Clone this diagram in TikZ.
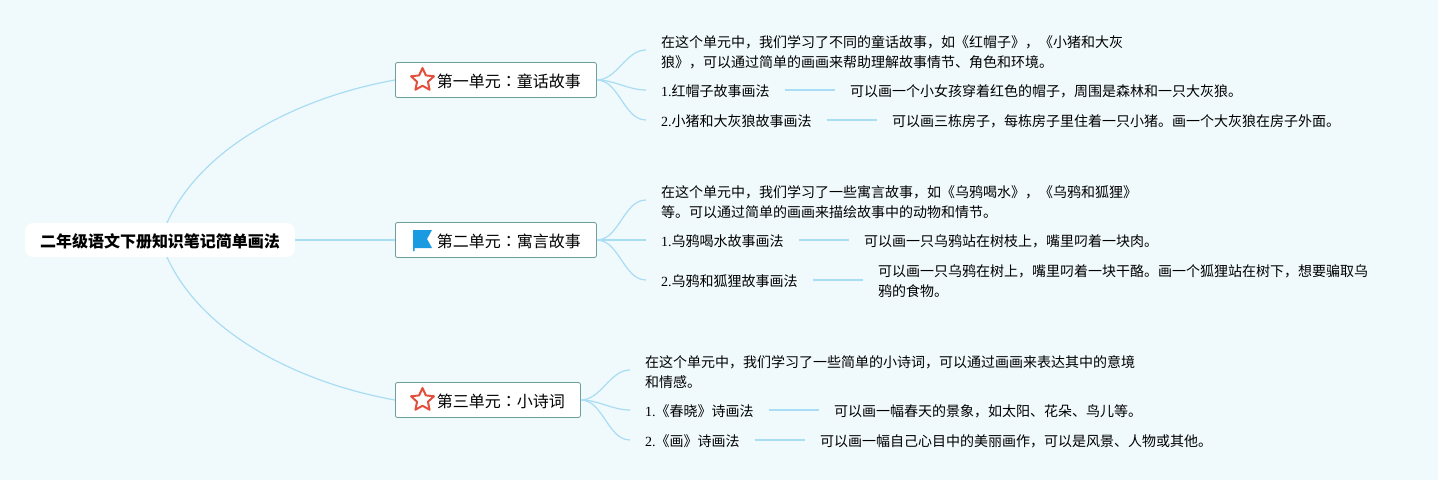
\documentclass[tikz,border=0pt]{standalone}
\usepackage{fontspec}
\setmainfont{Liberation Serif}
\newfontfamily\cjk{Noto Sans CJK SC}
\newfontfamily\cjktc{Noto Sans CJK TC}
\usetikzlibrary{positioning,shapes.geometric}
\definecolor{paper}{HTML}{F0F9FC}
\definecolor{branch}{HTML}{A9DDF3}
\definecolor{frame}{HTML}{6F9E9E}
\definecolor{starred}{HTML}{E2503C}
\definecolor{flagblue}{HTML}{1A9AE0}
\newcommand{\colonmark}{{\cjktc ：}}
\newcommand{\latin}[1]{{\rmfamily\normalfont #1}}
\newcommand{\lowered}[1]{\raisebox{-7pt}[8pt][8pt]{#1}}
\tikzset{
	rootnode/.style={fill=white,rounded corners=8pt,minimum width=270pt,minimum height=34pt,font=\cjk\fontsize{16}{20}\selectfont\bfseries,inner sep=0pt},
	unitnode/.style={draw=frame,fill=white,rounded corners=2pt,minimum height=35pt,anchor=west,font=\cjk\fontsize{16}{20}\selectfont,inner sep=0pt,line width=0.8pt},
	leafnode/.style={anchor=west,align=left,inner xsep=15pt,inner ysep=2pt,font=\cjk\fontsize{14}{20}\selectfont},
	link/.style={draw=branch,line width=1.2pt},
	starmark/.style={star,star points=5,star point ratio=2.1,draw=starred,fill=white,line width=2pt,minimum size=24pt,inner sep=0pt,line join=round}
}
\begin{document}
\begin{tikzpicture}[x=1pt,y=-1pt]
	\fill[paper] (0,0) rectangle (1438,480);
	\useasboundingbox (0,0) rectangle (1438,480);
	\node[rootnode] (root) at (160,240) {\lowered{二年级语文下册知识笔记简单画法}};
	% first unit
	\node[unitnode,minimum width=201pt] (unitA) at (395,80) {\hspace*{26pt}\lowered{第一单元\colonmark 童话故事}};
	\node[starmark] (iconA) at (422.5,80) {};
	\node[leafnode] (textA) at (646,52) {在这个单元中，我们学习了不同的童话故事，如《红帽子》，《小猪和大灰\\狼》，可以通过简单的画画来帮助理解故事情节、角色和环境。};
	\node[leafnode] (leafAa) at (646,91) {\latin{1.}红帽子故事画法};
	\node[leafnode,right=50pt of leafAa] (infoAa) {可以画一个小女孩穿着红色的帽子，周围是森林和一只大灰狼。};
	\node[leafnode] (leafAb) at (646,121) {\latin{2.}小猪和大灰狼故事画法};
	\node[leafnode,right=50pt of leafAb] (infoAb) {可以画三栋房子，每栋房子里住着一只小猪。画一个大灰狼在房子外面。};
	% second unit
	\node[unitnode,minimum width=201pt] (unitB) at (395,240) {\hspace*{26pt}\lowered{第二单元\colonmark 寓言故事}};
	\coordinate (iconB) at (413,230);
	\fill[flagblue] (iconB) -- ++(19,0) -- ++(-5,9) -- ++(5,9) -- ++(-17.5,0) -- ++(0,3) -- ++(-1.5,0) -- cycle;
	\node[leafnode] (textB) at (646,202) {在这个单元中，我们学习了一些寓言故事，如《乌鸦喝水》，《乌鸦和狐狸》\\等。可以通过简单的画画来描绘故事中的动物和情节。};
	\node[leafnode] (leafBa) at (646,241) {\latin{1.}乌鸦喝水故事画法};
	\node[leafnode,right=50pt of leafBa] (infoBa) {可以画一只乌鸦站在树枝上，嘴里叼着一块肉。};
	\node[leafnode] (leafBb) at (646,281) {\latin{2.}乌鸦和狐狸故事画法};
	\node[leafnode,right=50pt of leafBb] (infoBb) {可以画一只乌鸦在树上，嘴里叼着一块干酪。画一个狐狸站在树下，想要骗取乌\\鸦的食物。};
	% third unit
	\node[unitnode,minimum width=185pt] (unitC) at (395,400) {\hspace*{26pt}\lowered{第三单元\colonmark 小诗词}};
	\node[starmark] (iconC) at (422.5,400) {};
	\node[leafnode] (textC) at (630,372) {在这个单元中，我们学习了一些简单的小诗词，可以通过画画来表达其中的意境\\和情感。};
	\node[leafnode] (leafCa) at (630,411) {\latin{1.}《春晓》诗画法};
	\node[leafnode,right=50pt of leafCa] (infoCa) {可以画一幅春天的景象，如太阳、花朵、鸟儿等。};
	\node[leafnode] (leafCb) at (630,441) {\latin{2.}《画》诗画法};
	\node[leafnode,right=50pt of leafCb] (infoCb) {可以画一幅自己心目中的美丽画作，可以是风景、人物或其他。};
	% connectors
	\coordinate (rootA) at ([xshift=7pt]root.north);
	\coordinate (rootC) at ([xshift=7pt]root.south);
	\draw[link] (rootA) .. controls (205,140) and (310,95) .. (unitA.west);
	\draw[link] (rootC) .. controls (205,340) and (310,385) .. (unitC.west);
	\draw[link] (root) -- (unitB);
	\foreach \u/\t/\a/\b in {unitA/textA/leafAa/leafAb,unitB/textB/leafBa/leafBb,unitC/textC/leafCa/leafCb}{
		\draw[link] (\u.east) to[out=0,in=180,looseness=0.9] ([yshift=2pt]\t.west);
		\draw[link] (\u.east) to[out=0,in=180,looseness=0.9] ([yshift=1pt]\a.west);
		\draw[link] (\u.east) to[out=0,in=180,looseness=0.9] ([yshift=1pt]\b.west);
	}
	\foreach \a/\b in {leafAa/infoAa,leafAb/infoAb,leafBa/infoBa,leafBb/infoBb,leafCa/infoCa,leafCb/infoCb}{
		\draw[link] ([yshift=1pt]\a.east) -- ([yshift=1pt]\b.west);
	}
\end{tikzpicture}
\end{document}
